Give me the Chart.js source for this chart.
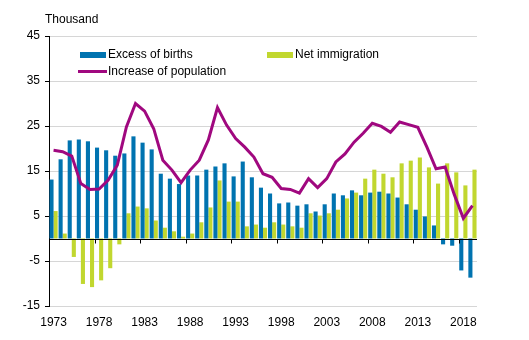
<!DOCTYPE html>
<html>
<head>
<meta charset="utf-8">
<script src="https://cdn.jsdelivr.net/npm/chart.js@4.4.1/dist/chart.umd.min.js"></script>
<style>
    html, body { margin: 0; padding: 0; background: #fff; }
    #wrap { position: relative; width: 529px; height: 340px; font-family: "Liberation Sans", Arial, sans-serif; font-size: 12px; color: #000; }
    #chart { position: absolute; left: 0; top: 0; }
    .txt { position: absolute; white-space: nowrap; line-height: 14px; }
    .sw { position: absolute; }
</style>
</head>
<body>
<div id="wrap">
    <canvas id="chart" width="529" height="340"></canvas>
    <div class="txt" style="left:45px; top:12px;">Thousand</div>
    <div class="sw" style="left:80px; top:52px; width:26px; height:6px; background:#0073b0;"></div>
    <div class="txt" style="left:108px; top:47px;">Excess of births</div>
    <div class="sw" style="left:267px; top:52px; width:26px; height:6px; background:#c1d72f;"></div>
    <div class="txt" style="left:295px; top:47px;">Net immigration</div>
    <div class="sw" style="left:78px; top:70px; width:29px; height:3px; background:#a0087f;"></div>
    <div class="txt" style="left:108px; top:64px;">Increase of population</div>
</div>
<script>
// Données (milliers)
const years = [];
for (let y = 1973; y <= 2019; y++) years.push(String(y));

const excessOfBirths = [
    13.1, 17.6, 21.8, 22.0, 21.6, 20.2, 19.6, 18.4, 18.9, 22.7,
    21.3, 19.8, 14.4, 13.3, 12.1, 14.0, 14.0, 15.3, 16.0, 16.7,
    13.8, 17.1, 13.6, 11.3, 10.0, 7.8, 8.0, 7.3, 7.6, 6.0,
    7.6, 10.0, 9.6, 10.7, 9.6, 10.2, 10.4, 10.0, 9.1, 7.6,
    6.4, 4.9, 2.9, -1.3, -1.6, -7.1, -8.7
];

const netImmigration = [
    6.1, 1.1, -4.1, -10.1, -10.8, -9.3, -6.6, -1.3, 5.6, 7.1,
    6.7, 4.0, 2.4, 1.6, 0.4, 1.1, 3.6, 6.9, 12.9, 8.2,
    8.2, 2.7, 3.1, 2.4, 3.6, 3.1, 2.7, 2.4, 5.6, 5.1,
    5.6, 6.4, 8.9, 10.2, 13.3, 15.3, 14.4, 13.6, 16.7, 17.3,
    18.0, 15.8, 12.2, 16.7, 14.7, 11.8, 15.3
];

const populationIncrease = [
    19.6, 19.3, 18.3, 12.2, 10.9, 11.0, 13.0, 16.3, 24.8, 30.0,
    28.3, 24.4, 17.4, 15.2, 12.4, 15.2, 17.4, 21.9, 29.1, 25.2,
    22.2, 20.3, 18.1, 14.4, 13.6, 11.1, 10.9, 10.1, 13.3, 11.3,
    13.3, 17.0, 18.8, 21.4, 23.4, 25.6, 24.9, 23.6, 25.9, 25.3,
    24.7, 20.3, 15.5, 15.9, 9.8, 4.5, 7.3
];

const yTicks = [-15, -5, 5, 15, 25, 35, 45];

const colors = {
    blue: '#0073b0',
    green: '#c1d72f',
    purple: '#a0087f',
    grid: '#d6d6d6'
};

// Ligne zéro + graduations de l'axe des x
const zeroAxis = {
    id: 'zeroAxis',
    afterDatasetsDraw(chart) {
        const { ctx, chartArea, scales } = chart;
        const x = scales.x, y = scales.y;
        const y0 = Math.round(y.getPixelForValue(0)) + 0.5;
        ctx.save();
        ctx.strokeStyle = '#000';
        ctx.lineWidth = 1;
        ctx.beginPath();
        ctx.moveTo(chartArea.left, y0);
        ctx.lineTo(chartArea.right, y0);
        for (let i = 5; i < years.length; i += 5) {
            const px = Math.round((x.getPixelForValue(i - 1) + x.getPixelForValue(i)) / 2) + 0.5;
            ctx.moveTo(px, y0);
            ctx.lineTo(px, y0 + 4);
        }
        ctx.stroke();
        ctx.restore();
    }
};

const ctx = document.getElementById('chart').getContext('2d');
new Chart(ctx, {
    data: {
        labels: years,
        datasets: [
            {
                type: 'line',
                label: 'Increase of population',
                data: populationIncrease,
                borderColor: colors.purple,
                borderWidth: 3,
                pointRadius: 0,
                tension: 0,
                order: 0
            },
            {
                type: 'bar',
                label: 'Excess of births',
                data: excessOfBirths,
                backgroundColor: colors.blue,
                categoryPercentage: 0.9,
                barPercentage: 1.0,
                order: 1
            },
            {
                type: 'bar',
                label: 'Net immigration',
                data: netImmigration,
                backgroundColor: colors.green,
                categoryPercentage: 0.9,
                barPercentage: 1.0,
                order: 1
            }
        ]
    },
    options: {
        responsive: false,
        animation: false,
        devicePixelRatio: 1,
        layout: {
            padding: { top: 36, right: 52, bottom: 0, left: 0 }
        },
        plugins: {
            legend: { display: false },
            title: { display: false },
            tooltip: { enabled: false }
        },
        scales: {
            x: {
                type: 'category',
                offset: true,
                grid: { display: false, drawTicks: false },
                border: { display: false },
                afterFit(scale) { scale.height = 34; },
                ticks: {
                    autoSkip: false,
                    maxRotation: 0,
                    padding: 9,
                    color: '#000',
                    font: { family: "'Liberation Sans', Arial, sans-serif", size: 12 },
                    callback: function(value, index) {
                        return index % 5 === 0 ? years[index] : '';
                    }
                }
            },
            y: {
                min: -15,
                max: 45,
                afterFit(scale) { scale.width = 49; },
                afterBuildTicks(scale) {
                    scale.ticks = yTicks.map(v => ({ value: v }));
                },
                grid: {
                    color: colors.grid,
                    tickColor: '#000',
                    tickLength: 4
                },
                border: { display: true, color: '#000', width: 1 },
                ticks: {
                    padding: 5,
                    color: '#000',
                    font: { family: "'Liberation Sans', Arial, sans-serif", size: 12 }
                }
            }
        }
    },
    plugins: [zeroAxis]
});
</script>
</body>
</html>
